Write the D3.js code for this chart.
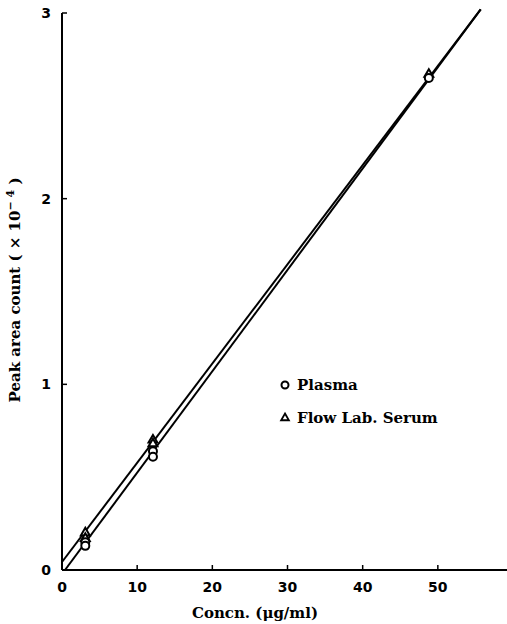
<!DOCTYPE html>
<html>
<head>
<meta charset="utf-8">
<script src="https://cdn.jsdelivr.net/npm/d3@7"></script>
<style>
  body { margin: 0; background: #fff; }
  svg { display: block; }
  .tick-label { font-family: "DejaVu Sans", sans-serif; font-weight: bold; font-size: 14px; }
  .serif { font-family: "DejaVu Serif", serif; font-weight: bold; font-size: 15px; }
</style>
</head>
<body>
<div id="chart"></div>
<script>
// concentrations (ug/ml) and peak area counts (x 10^-4)
const plasmaConc = [3.1, 3.1, 12.1, 12.1, 48.8];
const plasmaArea = [0.15, 0.13, 0.64, 0.61, 2.65];
const serumConc = [3.1, 3.1, 12.1, 12.1, 48.8];
const serumArea = [0.20, 0.17, 0.70, 0.68, 2.67];

// fitted lines, read as end points
const plasmaFit = [[0.4, 0], [55.7, 3.02]];
const serumFit = [[0, 0.043], [55.7, 3.02]];

const xTicks = [0, 10, 20, 30, 40, 50];
const yTicks = [0, 1, 2, 3];

const W = 507, H = 624;
const svg = d3.select('#chart').append('svg')
  .attr('width', W)
  .attr('height', H);

const x = d3.scaleLinear().domain([0, 59.2]).range([62, 507]);
const y = d3.scaleLinear().domain([0, 3]).range([570, 13]);

// axes
svg.append('line')
  .attr('x1', x(0)).attr('x2', W)
  .attr('y1', y(0)).attr('y2', y(0))
  .attr('stroke', '#000').attr('stroke-width', 2);
svg.append('line')
  .attr('x1', x(0)).attr('x2', x(0))
  .attr('y1', y(0)).attr('y2', y(3))
  .attr('stroke', '#000').attr('stroke-width', 2);

svg.selectAll('.xtick')
  .data(xTicks.slice(1))
  .enter()
  .append('line')
  .attr('class', 'xtick')
  .attr('x1', d => x(d)).attr('x2', d => x(d))
  .attr('y1', y(0)).attr('y2', y(0) - 5)
  .attr('stroke', '#000').attr('stroke-width', 1.5);

svg.selectAll('.xlabel')
  .data(xTicks)
  .enter()
  .append('text')
  .attr('class', 'tick-label')
  .attr('x', d => x(d))
  .attr('y', y(0) + 22)
  .attr('text-anchor', 'middle')
  .text(d => d);

svg.selectAll('.ytick')
  .data(yTicks.slice(1))
  .enter()
  .append('line')
  .attr('class', 'ytick')
  .attr('x1', x(0)).attr('x2', x(0) + 5)
  .attr('y1', d => y(d)).attr('y2', d => y(d))
  .attr('stroke', '#000').attr('stroke-width', 1.5);

svg.selectAll('.ylabel')
  .data(yTicks)
  .enter()
  .append('text')
  .attr('class', 'tick-label')
  .attr('x', 51)
  .attr('y', d => y(d) + 5)
  .attr('text-anchor', 'end')
  .text(d => d);

// axis titles
svg.append('text')
  .attr('class', 'serif')
  .attr('x', 255)
  .attr('y', 618)
  .attr('text-anchor', 'middle')
  .text('Concn. (\u03bcg/ml)');

const yTitle = svg.append('text')
  .attr('class', 'serif')
  .attr('font-size', 14)
  .attr('transform', 'translate(20,290) rotate(-90)')
  .attr('text-anchor', 'middle');
yTitle.append('tspan').text('Peak area count  ( \u00d7 10');
yTitle.append('tspan').attr('dy', -6).attr('font-size', 11).text('\u2212 4');
yTitle.append('tspan').attr('dy', 6).text(' )');

// fitted lines
const line = d3.line().x(d => x(d[0])).y(d => y(d[1]));
[plasmaFit, serumFit].forEach(fit => {
  svg.append('path')
    .attr('d', line(fit))
    .attr('fill', 'none')
    .attr('stroke', '#000')
    .attr('stroke-width', 2);
});

// markers
const tri = d3.symbol().type(d3.symbolTriangle).size(34);

svg.selectAll('.serum')
  .data(serumConc.map((c, i) => [c, serumArea[i]]))
  .enter()
  .append('path')
  .attr('class', 'serum')
  .attr('d', tri)
  .attr('transform', d => `translate(${x(d[0])},${y(d[1])})`)
  .attr('fill', '#fff')
  .attr('stroke', '#000')
  .attr('stroke-width', 2);

svg.selectAll('.plasma')
  .data(plasmaConc.map((c, i) => [c, plasmaArea[i]]))
  .enter()
  .append('circle')
  .attr('class', 'plasma')
  .attr('cx', d => x(d[0]))
  .attr('cy', d => y(d[1]))
  .attr('r', 4)
  .attr('fill', '#fff')
  .attr('stroke', '#000')
  .attr('stroke-width', 2);

// legend
svg.append('circle')
  .attr('cx', 285).attr('cy', 385).attr('r', 3.5)
  .attr('fill', '#fff').attr('stroke', '#000').attr('stroke-width', 2);
svg.append('text')
  .attr('class', 'serif')
  .attr('x', 297).attr('y', 390)
  .text('Plasma');
svg.append('path')
  .attr('d', d3.symbol().type(d3.symbolTriangle).size(26)())
  .attr('transform', 'translate(285,418)')
  .attr('fill', '#fff').attr('stroke', '#000').attr('stroke-width', 1.8);
svg.append('text')
  .attr('class', 'serif')
  .attr('x', 297).attr('y', 423)
  .text('Flow Lab. Serum');
</script>
</body>
</html>
